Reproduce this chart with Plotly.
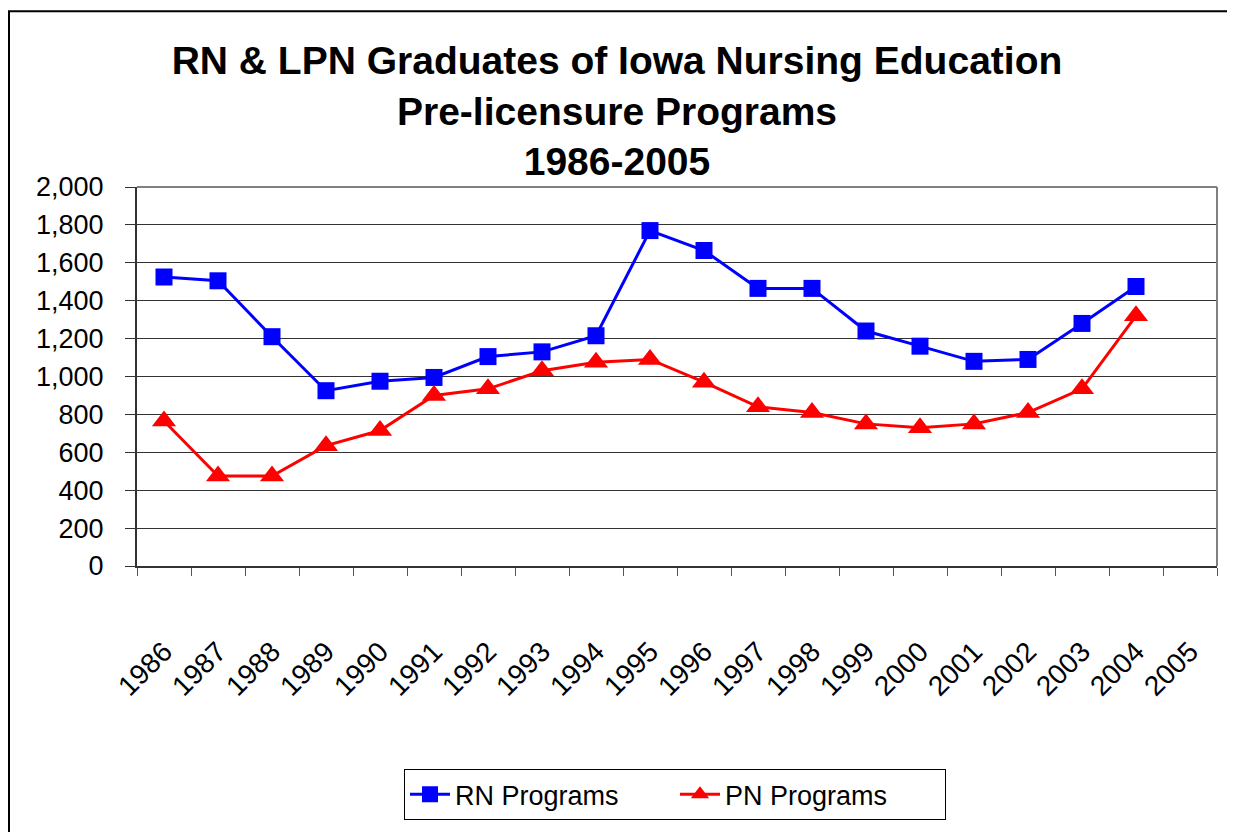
import plotly.graph_objects as go

years = [str(y) for y in range(1986, 2006)]
rn_values = [1525, 1505, 1210, 925, 975, 995, 1105, 1130, 1215, 1770,
             1665, 1465, 1465, 1240, 1160, 1080, 1090, 1280, 1475, None]
pn_values = [765, 475, 475, 635, 715, 900, 935, 1030, 1075, 1090,
             970, 840, 810, 750, 730, 750, 810, 935, 1320, None]
y_ticks = [0, 200, 400, 600, 800, 1000, 1200, 1400, 1600, 1800, 2000]
y_tick_text = ["0", "200", "400", "600", "800", "1,000", "1,200", "1,400", "1,600", "1,800", "2,000"]

FONT = "Liberation Sans, Arial, sans-serif"
xpos = list(range(len(years)))

fig = go.Figure()
fig.add_trace(go.Scatter(
    x=xpos, y=rn_values, name="RN Programs", mode="lines+markers",
    line=dict(color="#0000FF", width=3),
    marker=dict(symbol="square", size=17, color="#0000FF"),
))
fig.add_trace(go.Scatter(
    x=xpos, y=pn_values, name="PN Programs", mode="lines+markers",
    line=dict(color="#FF0000", width=3),
    marker=dict(symbol="triangle-up", size=21, color="#FF0000"),
))

# page has an 8px body margin; work in figure pixel coordinates
OFF = 8
W, H = 1235 - OFF, 832 - OFF
L, R, T, B = 137 - OFF, 1217 - OFF, 187 - OFF, 571 - OFF
pw, ph = R - L, B - T

def fx(px):
    return (px - L) / pw

def fy(py):
    return (B - py) / ph

# outer chart border
fig.add_shape(type="rect", xref="paper", yref="paper",
              x0=fx(1), x1=fx(1233 - OFF),
              y0=fy(H + 10), y1=fy(1),
              line=dict(color="black", width=2), layer="below")
# plot-area border (top and right, gray)
fig.add_shape(type="line", xref="paper", yref="paper", x0=0, x1=1, y0=1, y1=1,
              line=dict(color="#808080", width=2))
fig.add_shape(type="line", xref="paper", yref="paper", x0=1, x1=1, y0=0, y1=1,
              line=dict(color="#808080", width=2))

fig.update_layout(
    width=W, height=H,
    margin=dict(l=L, r=W - R, t=T, b=H - B, pad=0),
    paper_bgcolor="white", plot_bgcolor="white",
    font=dict(family=FONT, color="black"),
    title=dict(
        text="<b>RN & LPN Graduates of Iowa Nursing Education<br>Pre-licensure Programs<br>1986-2005</b>",
        x=(617 - OFF) / W, xref="container", xanchor="center",
        y=1 - 66 / H, yref="container", yanchor="top",
        font=dict(family=FONT, size=39, color="black"),
    ),
    showlegend=True,
    legend=dict(
        orientation="h", x=fx(675 - OFF), xanchor="center",
        y=fy(777 - OFF), yanchor="top",
        bordercolor="black", borderwidth=1,
        font=dict(family=FONT, size=27, color="black"),
        itemwidth=40, tracegroupgap=0,
        entrywidth=215, entrywidthmode="pixels",
    ),
    xaxis=dict(
        range=[-0.5, 19.5],
        tickmode="array", tickvals=xpos, ticktext=years,
        tickangle=-45, ticks="", ticklen=0,
        ticklabelstandoff=56,
        tickfont=dict(family=FONT, size=28, color="black"),
        showgrid=False, zeroline=False,
        showline=True, linecolor="#333333", linewidth=2,
        minor=dict(tickmode="linear", tick0=-0.5, dtick=1, ticks="outside",
                   ticklen=8, tickcolor="#555555", tickwidth=1, showgrid=False),
    ),
    yaxis=dict(
        range=[0, 2000],
        tickmode="array", tickvals=y_ticks, ticktext=y_tick_text,
        ticks="outside", ticklen=10, tickcolor="#333333", tickwidth=1,
        ticklabelstandoff=16,
        tickfont=dict(family=FONT, size=27, color="black"),
        showgrid=True, gridcolor="#333333", gridwidth=1,
        zeroline=False,
        showline=True, linecolor="#333333", linewidth=2,
    ),
)

fig.write_html("out.html")
